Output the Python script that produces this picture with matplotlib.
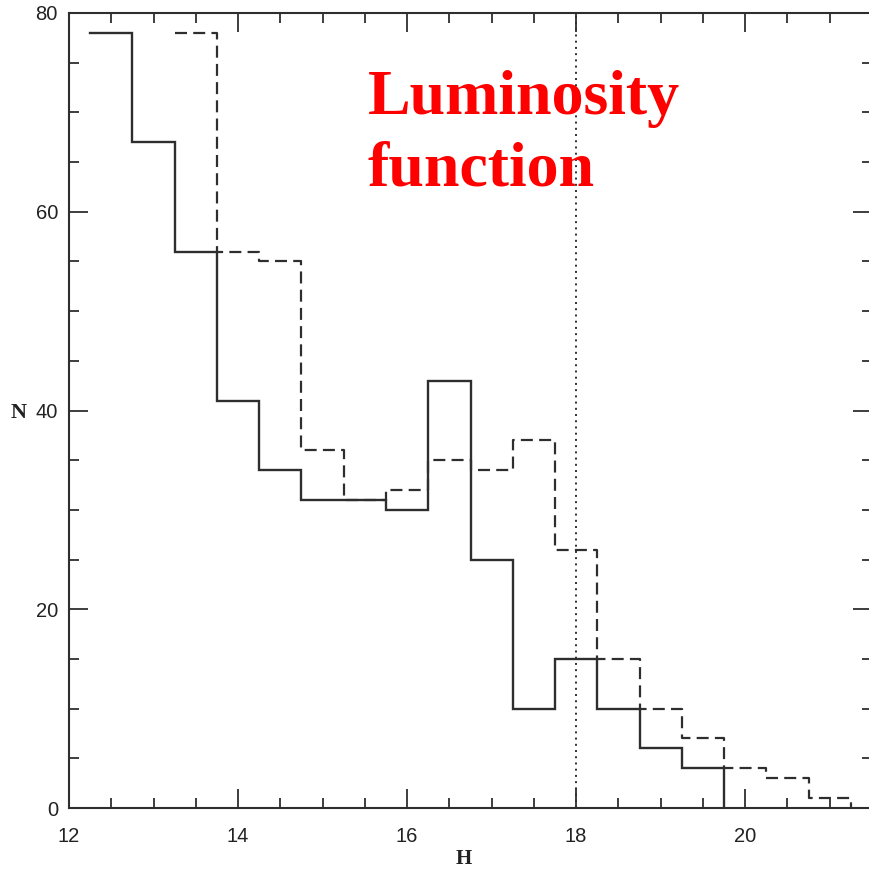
import matplotlib
matplotlib.use("Agg")
import matplotlib.pyplot as plt
from matplotlib.ticker import MultipleLocator
import numpy as np

# Histogram bins in H magnitude (width 0.5)
solid_edges = [12.25, 12.75, 13.25, 13.75, 14.25, 14.75, 15.25, 15.75,
               16.25, 16.75, 17.25, 17.75, 18.25, 18.75, 19.25, 19.75]
solid_counts = [78, 67, 56, 41, 34, 31, 31, 30, 43, 25, 10, 15, 10, 6, 4]

dashed_edges = [13.25, 13.75, 14.25, 14.75, 15.25, 15.75, 16.25, 16.75,
                17.25, 17.75, 18.25, 18.75, 19.25, 19.75, 20.25, 20.75, 21.25]
dashed_counts = [78, 56, 55, 36, 31, 32, 35, 34, 37, 26, 15, 10, 7, 4, 3, 1]

h_limit = 18.0
x_ticks = [12, 14, 16, 18, 20]
y_ticks = [0, 20, 40, 60, 80]

fig = plt.figure(figsize=(8.69, 8.69), dpi=100)
ax = fig.add_axes([69 / 869, 61 / 869, 803 / 869, 795 / 869])

line_col = "#2e2e2e"

# Step outlines: horizontal at each count, final drop to zero
ax.plot(solid_edges, solid_counts + [0], drawstyle="steps-post",
        color=line_col, lw=1.7, solid_joinstyle="miter")
ax.plot(dashed_edges, dashed_counts + [0], drawstyle="steps-post",
        color=line_col, lw=1.6, dashes=(5.4, 2.8))
ax.axvline(h_limit, color=line_col, lw=1.4, ls=(0, (1, 2.2)))

ax.set_xlim(12, 21.5)
ax.set_ylim(0, 80)
ax.set_xticks(x_ticks)
ax.set_yticks(y_ticks)
ax.xaxis.set_minor_locator(MultipleLocator(0.5))
ax.yaxis.set_minor_locator(MultipleLocator(5))

ax.tick_params(which="both", direction="in", top=True, right=True,
               color=line_col, width=1.3)
ax.tick_params(which="major", length=14, labelsize=14.5, labelcolor="#222222")
ax.tick_params(axis="x", which="major", pad=14)
ax.tick_params(axis="y", which="major", pad=8)
ax.tick_params(which="minor", length=7)
for lab in ax.get_xticklabels() + ax.get_yticklabels():
    lab.set_family("Liberation Sans")

for sp in ax.spines.values():
    sp.set_color(line_col)
    sp.set_linewidth(1.5)

ax.text(-0.053, 0.497, "N", transform=ax.transAxes, ha="right", va="center",
        fontsize=16, family="Liberation Serif", fontweight="bold", color="#222222")
ax.text(0.492, -0.064, "H", transform=ax.transAxes, ha="center", va="center",
        fontsize=15, family="Liberation Serif", fontweight="bold", color="#222222")

ax.text(368 / 869, 1 - 70 / 869, "Luminosity\nfunction", transform=fig.transFigure,
        ha="left", va="top", fontsize=46, family="Liberation Serif",
        fontweight="bold", color="#ff0000", linespacing=1.3)

fig.savefig("out.png", dpi=100)
